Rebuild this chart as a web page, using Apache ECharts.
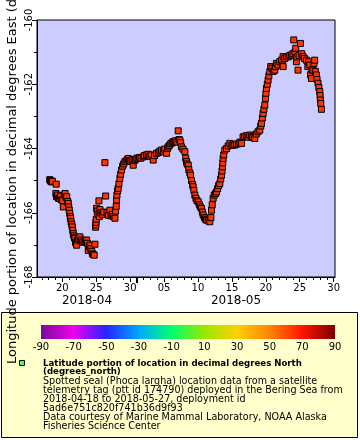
<!DOCTYPE html>
<html>
<head>
<meta charset="utf-8">
<script src="https://cdn.jsdelivr.net/npm/echarts@6/dist/echarts.min.js"></script>
<style>html,body{margin:0;padding:0;background:#fff}#c{width:360px;height:440px}</style>
</head>
<body>
<div id="c"></div>
<script>
// time in fractional days of April 2018 (May 1 = 31)
const dayOfApril = [
18.15,18.25,18.35,18.45,18.55,19.10,19.05,19.15,19.30,19.45,19.60,19.75,19.90,20.05,20.15,20.30,20.40,20.55,20.65,20.80,
20.88,20.95,21.03,21.10,21.18,21.23,21.30,21.40,21.47,21.55,21.62,21.70,21.80,21.87,21.95,22.05,22.12,22.25,22.40,22.60,
22.75,22.85,23.00,23.20,23.40,23.59,23.70,23.83,23.95,24.07,24.20,24.35,24.45,24.56,24.70,24.81,24.90,24.95,24.96,25.00,
25.06,25.15,25.25,25.40,25.45,25.55,25.70,25.90,26.10,26.28,26.39,26.60,26.80,27.02,27.20,27.40,27.60,27.76,27.85,27.95,
28.00,28.05,28.15,28.24,28.35,28.49,28.60,28.74,28.90,29.05,29.23,29.40,29.55,29.72,29.90,30.10,30.30,30.45,30.60,30.80,
31.00,31.19,31.40,31.60,31.92,32.10,32.40,32.66,32.90,33.10,33.40,33.60,33.90,34.20,34.40,34.63,34.90,35.10,35.37,35.50,
35.61,35.80,36.00,36.20,36.34,36.50,36.70,36.90,37.08,37.20,37.33,37.45,37.58,37.80,38.07,38.20,38.31,38.40,38.56,38.65,
38.80,38.91,39.05,39.20,39.29,39.40,39.54,39.70,39.85,40.03,40.20,40.35,40.53,40.65,40.77,40.95,41.10,41.26,41.50,41.75,
41.90,42.00,42.10,42.24,42.40,42.60,42.74,42.90,43.05,43.22,43.35,43.47,43.55,43.62,43.66,43.71,43.80,43.96,44.20,44.45,
44.70,45.00,45.18,45.43,45.70,46.00,46.20,46.42,46.65,46.90,47.20,47.40,47.64,47.90,48.10,48.38,48.60,48.85,49.11,49.25,
49.36,49.50,49.60,49.72,49.85,49.95,50.02,50.10,50.22,50.34,50.45,50.59,50.73,50.90,51.10,51.32,51.45,51.57,51.80,52.06,
52.31,52.45,52.55,52.55,52.80,53.04,53.30,53.55,53.78,54.00,54.12,54.30,54.41,54.51,54.60,54.75,54.90,55.11,55.30,55.49,
55.70,55.99,56.20,56.30,56.48,56.60,56.72,56.80,56.96,57.10,57.20,57.30,57.46,57.55,57.70,57.82,57.95,58.00,58.05,58.10,
58.20
];
const longitude = [
-164.97,-165.00,-165.03,-165.04,-165.02,-165.11,-165.40,-165.50,-165.45,-165.55,-165.56,-165.48,-165.60,-165.62,-165.82,-165.45,-165.40,-165.52,-165.50,-165.65,
-165.71,-165.82,-165.92,-166.02,-166.12,-166.18,-166.28,-166.36,-166.44,-166.55,-166.65,-166.72,-166.78,-166.80,-166.92,-166.95,-167.01,-166.85,-166.80,-166.75,
-166.88,-166.85,-166.92,-166.90,-166.86,-166.85,-166.95,-167.17,-167.05,-167.01,-167.12,-167.20,-167.28,-167.30,-167.32,-166.98,-166.45,-166.38,-166.30,-166.20,
-165.86,-165.95,-166.05,-165.63,-166.12,-165.90,-166.00,-166.05,-165.98,-164.44,-165.48,-166.00,-166.08,-165.92,-166.10,-166.05,-166.12,-166.17,-165.95,-165.80,
-165.60,-165.45,-165.32,-165.24,-165.10,-164.93,-164.80,-164.67,-164.55,-164.48,-164.41,-164.40,-164.35,-164.31,-164.38,-164.40,-164.35,-164.52,-164.38,-164.34,
-164.30,-164.31,-164.28,-164.30,-164.26,-164.22,-164.20,-164.18,-164.25,-164.20,-164.36,-164.22,-164.15,-164.12,-164.08,-164.05,-164.10,-164.02,-164.15,-164.00,
-163.95,-163.90,-163.85,-163.82,-163.79,-163.78,-163.76,-163.80,-163.45,-163.72,-163.74,-163.82,-163.95,-164.02,-164.10,-164.30,-164.41,-164.48,-164.52,-164.66,
-164.76,-164.83,-165.00,-165.12,-165.19,-165.30,-165.45,-165.55,-165.62,-165.66,-165.75,-165.82,-165.87,-165.98,-166.07,-166.15,-166.20,-166.23,-166.25,-166.28,
-166.15,-165.92,-165.75,-165.55,-165.45,-165.40,-165.35,-165.25,-165.15,-165.09,-164.95,-164.83,-164.70,-164.57,-164.45,-164.31,-164.20,-164.05,-164.00,-163.92,
-163.84,-163.90,-163.89,-163.89,-163.86,-163.85,-163.80,-163.84,-163.64,-163.62,-163.60,-163.65,-163.58,-163.62,-163.66,-163.69,-163.55,-163.48,-163.43,-163.30,
-163.22,-163.05,-162.91,-162.78,-162.65,-162.44,-162.28,-162.13,-162.00,-161.87,-161.74,-161.61,-161.45,-161.50,-161.60,-161.56,-161.45,-161.35,-161.40,-161.30,
-161.25,-161.40,-161.14,-161.45,-161.20,-161.14,-161.15,-161.10,-161.09,-161.05,-160.62,-161.00,-160.88,-161.30,-161.15,-161.56,-161.10,-160.73,-161.05,-161.14,
-161.20,-161.25,-161.45,-161.30,-161.40,-161.70,-161.82,-161.55,-161.56,-161.35,-161.25,-161.60,-161.71,-161.85,-161.97,-162.10,-162.23,-162.35,-162.49,-162.60,
-162.78
];
const xMin = 16.27, xMax = 60.2;
const xLabelDays = [20, 25, 30, 35, 40, 45, 50, 55, 60];
const monthNames = ['2018-04', '2018-05'];
const colorbarTicks = [-90, -70, -50, -30, -10, 10, 30, 50, 70, 90];
const yAxisTitle = 'Longitude portion of location in decimal degrees East (degrees_east)';
const legendTitle = ['Latitude portion of location in decimal degrees North', '(degrees_north)'];
const legendLines = [
  'Spotted seal (Phoca largha) location data from a satellite',
  'telemetry tag (ptt id 174790) deployed in the Bering Sea from',
  '2018-04-18 to 2018-05-27, deployment id',
  '5ad6e751c820f741b36d9f93',
  'Data courtesy of Marine Mammal Laboratory, NOAA Alaska',
  'Fisheries Science Center'
];

const pts = dayOfApril.map((d, i) => [d, longitude[i]]);
const dailyTicks = [];
for (let d = Math.ceil(xMin); d <= Math.floor(xMax); d++) dailyTicks.push(d);
const FONT = 'DejaVu Sans';
const fmtDay = v => v > 30 ? String(v - 30).padStart(2, '0') : String(v);

const chart = echarts.init(document.getElementById('c'), null, {renderer: 'canvas'});
const grad = new echarts.graphic.LinearGradient(0, 0, 1, 0, [
  {offset: 0, color: '#7a0a9a'},
  {offset: 0.111, color: '#f000f0'},
  {offset: 0.222, color: '#2424ff'},
  {offset: 0.333, color: '#00a8ff'},
  {offset: 0.444, color: '#00ff70'},
  {offset: 0.556, color: '#98e800'},
  {offset: 0.667, color: '#ffd000'},
  {offset: 0.778, color: '#ff8400'},
  {offset: 0.889, color: '#ff1400'},
  {offset: 1, color: '#7a0000'}
]);

const base = {type: 'value', min: xMin, max: xMax, gridIndex: 0, position: 'bottom',
  splitLine: {show: false}, axisLine: {show: false}, axisLabel: {show: false}, axisTick: {show: false}};

chart.setOption({
  animation: false,
  textStyle: {fontFamily: FONT},
  grid: [
    {left: 37, top: 20, width: 298, height: 257, show: true, backgroundColor: '#ccccff', borderColor: '#000', borderWidth: 1},
    {left: 41, top: 325, width: 294, height: 14, show: false}
  ],
  xAxis: [
    Object.assign({}, base, {
      axisLine: {show: true, lineStyle: {color: '#000'}},
      axisTick: {show: true, length: 3, customValues: dailyTicks, lineStyle: {color: '#000'}},
      axisLabel: {show: true, customValues: xLabelDays, formatter: fmtDay, color: '#000', fontSize: 10, margin: 6, fontFamily: FONT}
    }),
    Object.assign({}, base, {axisTick: {show: true, length: 5, customValues: xLabelDays, lineStyle: {color: '#000'}}}),
    Object.assign({}, base, {axisTick: {show: true, length: 6, customValues: [31], lineStyle: {color: '#000', width: 2}}}),
    Object.assign({}, base, {axisLabel: {show: true, customValues: [(xMin + 31) / 2, (31 + xMax) / 2],
      formatter: v => v < 31 ? monthNames[0] : monthNames[1], color: '#000', fontSize: 12, margin: 18, fontFamily: FONT}}),
    {type: 'value', gridIndex: 1, min: -90, max: 90, position: 'bottom', splitLine: {show: false},
      axisLine: {show: false}, axisTick: {show: false},
      axisLabel: {show: true, customValues: colorbarTicks, color: '#000', fontSize: 10, margin: 3, fontFamily: FONT}, z: 10}
  ],
  yAxis: [
    {type: 'value', gridIndex: 0, min: -168, max: -160, interval: 2,
      splitLine: {show: false},
      axisLine: {show: true, lineStyle: {color: '#000'}},
      axisTick: {show: true, length: 5, lineStyle: {color: '#000'}},
      minorTick: {show: true, splitNumber: 2, length: 3, lineStyle: {color: '#000'}},
      axisLabel: {rotate: 90, color: '#000', fontSize: 10, margin: 3, fontFamily: FONT}},
    {type: 'value', gridIndex: 1, min: 0, max: 1, show: false}
  ],
  series: [{
    type: 'scatter', xAxisIndex: 0, yAxisIndex: 0, data: pts,
    symbol: 'rect', symbolSize: 6,
    itemStyle: {color: '#ff3300', borderColor: '#000', borderWidth: 1, opacity: 1}
  }],
  graphic: [
    {type: 'rect', shape: {x: 1.5, y: 312.5, width: 356, height: 125}, style: {fill: '#ffffcc', stroke: '#000', lineWidth: 1}, z: -10, silent: true},
    {type: 'rect', shape: {x: 41, y: 325, width: 294, height: 14}, style: {fill: grad}, z: 5, silent: true},
    {type: 'rect', shape: {x: 19.5, y: 360.5, width: 5, height: 5}, style: {fill: '#44ff44', stroke: '#000', lineWidth: 1}, z: 10},
    {type: 'text', x: 43, y: 359, style: {text: legendTitle.join('\n'), font: 'bold 8.6px "DejaVu Sans"', fill: '#000', lineHeight: 8.7}, z: 10},
    {type: 'text', x: 43, y: 377, style: {text: legendLines.join('\n'), font: '9.6px "DejaVu Sans"', fill: '#000', lineHeight: 9}, z: 10},
    {type: 'text', x: 6, y: 364, rotation: Math.PI / 2, style: {text: yAxisTitle, font: '13px "DejaVu Sans"', fill: '#000', textAlign: 'left', textVerticalAlign: 'top'}, z: 20}
  ]
});
</script>
</body>
</html>
